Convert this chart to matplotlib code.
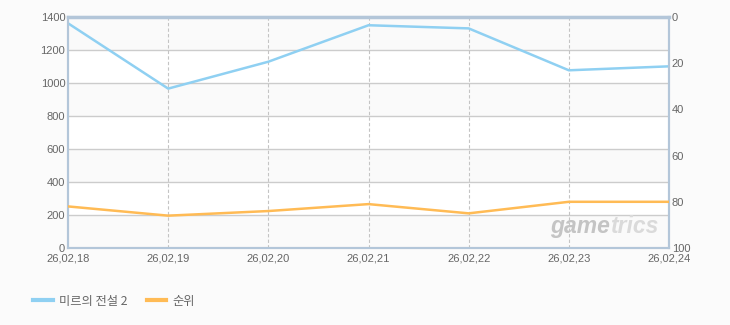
import matplotlib.pyplot as plt

# daily sales index vs. rank

dates = ["26,02,18", "26,02,19", "26,02,20", "26,02,21", "26,02,22", "26,02,23", "26,02,24"]
mir2 = [1362, 966, 1129, 1350, 1331, 1077, 1101]
rank = [82, 86, 84, 81, 85, 80, 80]

blue = "#8fd0f2"
orange = "#ffbb55"
spine_col = "#b3c6d9"
txt_col = "#666666"

plt.rcParams["font.family"] = ["Liberation Sans", "Noto Sans CJK KR", "DejaVu Sans"]

fig = plt.figure(figsize=(7.3, 3.25), dpi=100)
fig.patch.set_facecolor("#fbfbfb")
ax = fig.add_axes([68 / 730, 77 / 325, 601 / 730, 231 / 325])
ax.set_facecolor("white")

x = list(range(len(dates)))

# alternating bands
for i, lo in enumerate(range(0, 1400, 200)):
    if i % 2 == 0:
        ax.axhspan(lo, lo + 200, color="#fafafa", zorder=0, lw=0)

for yv in range(200, 1400, 200):
    ax.axhline(yv, color="#cccccc", lw=1, zorder=1)
for xv in x[1:-1]:
    ax.axvline(xv, color="#c4c4c4", lw=0.8, ls=(0, (3, 2)), zorder=1)

l1, = ax.plot(x, mir2, color=blue, lw=1.8, zorder=3, label="미르의 전설 2")
ax.set_xlim(0, len(dates) - 1)
ax.set_ylim(0, 1400)
ax.set_yticks(range(0, 1401, 200))
ax.set_xticks(x)
ax.set_xticklabels(dates)

ax2 = ax.twinx()
l2, = ax2.plot(x, rank, color=orange, lw=1.8, zorder=3, label="순위")
ax2.set_ylim(100, 0)
ax2.set_yticks(range(0, 101, 20))

for a in (ax, ax2):
    for s in a.spines.values():
        s.set_color(spine_col)
        s.set_linewidth(1.5)
    a.tick_params(length=0, labelsize=8, colors=txt_col)
ax.spines["top"].set_linewidth(2.5)
ax.tick_params(axis="y", pad=2)
ax.tick_params(axis="x", pad=4)
ax2.tick_params(axis="y", pad=2)

# watermark
ax.text(0.982, 0.045, "game", transform=ax.transAxes, ha="right", va="bottom",
        fontsize=16.5, fontstyle="italic", fontweight="bold", color="#c4c4c4", zorder=2)
ax.text(0.982, 0.045, "trics", transform=ax.transAxes, ha="right", va="bottom",
        fontsize=16.5, fontstyle="italic", fontweight="bold", color="#dadada", zorder=2)
fig.canvas.draw()
wm = ax.texts
r = wm[1].get_window_extent()
inv = ax.transAxes.inverted()
wm[0].set_position((inv.transform((r.x0, r.y0))[0], 0.045))

fig.legend([l1, l2], ["미르의 전설 2", "순위"], loc="center left",
           bbox_to_anchor=(22 / 730, 24 / 325), ncol=2, frameon=False,
           handlelength=1.6, handletextpad=0.5, columnspacing=1.6, labelcolor=txt_col,
           prop={"family": ["Noto Sans CJK KR", "DejaVu Sans"], "size": 8.8})
for lh in fig.legends[0].get_lines():
    lh.set_linewidth(3)

fig.savefig("out.png", dpi=100, facecolor=fig.get_facecolor())
